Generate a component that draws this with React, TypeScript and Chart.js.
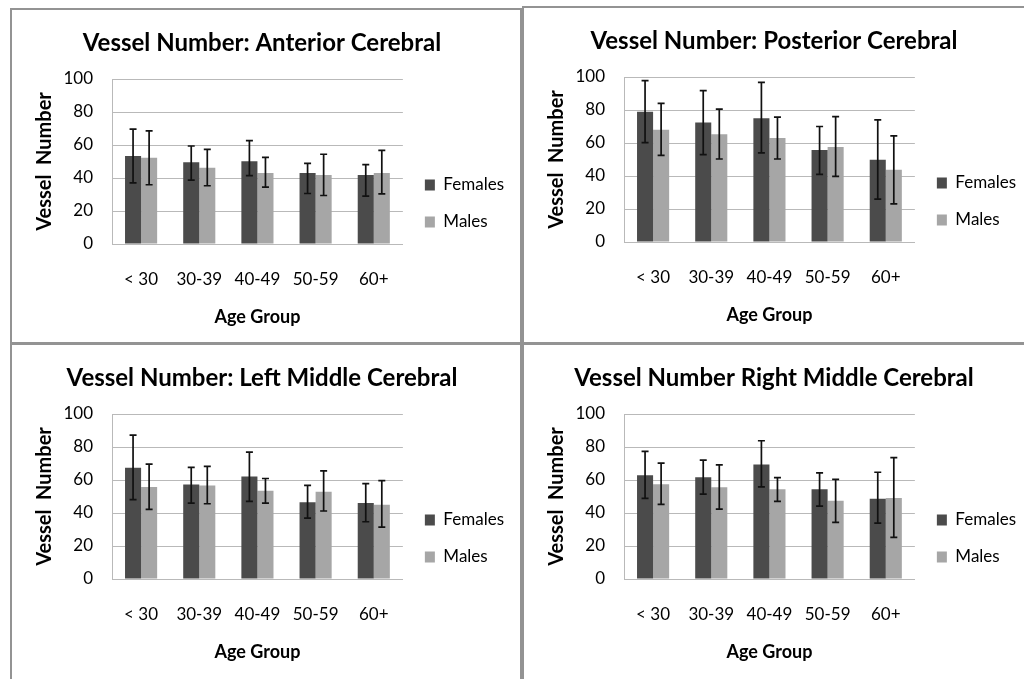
import React, { useEffect, useRef } from 'react';
import { Chart, registerables } from 'chart.js';

Chart.register(...registerables);

// ---------- data ----------
const categories = ['< 30', '30-39', '40-49', '50-59', '60+'];
const yTicks = [0, 20, 40, 60, 80, 100];

// Anterior Cerebral
const acFemales = [53.3, 49.5, 50.1, 43.0, 41.8];
const acFemalesHi = [69.6, 59.4, 62.7, 48.9, 48.1];
const acFemalesLo = [37.1, 38.7, 41.4, 30.6, 29.0];
const acMales = [52.3, 46.2, 43.0, 41.8, 43.0];
const acMalesHi = [68.6, 57.4, 52.5, 54.4, 56.8];
const acMalesLo = [35.9, 35.3, 34.5, 29.4, 30.4];

// Posterior Cerebral
const pcFemales = [78.9, 72.4, 75.0, 55.8, 49.9];
const pcFemalesHi = [97.8, 91.7, 96.8, 70.0, 74.0];
const pcFemalesLo = [60.2, 52.9, 54.0, 41.0, 26.0];
const pcMales = [68.0, 65.3, 63.1, 57.6, 43.8];
const pcMalesHi = [84.0, 80.5, 75.7, 76.0, 64.3];
const pcMalesLo = [52.5, 50.3, 50.3, 39.8, 23.1];

// Left Middle Cerebral
const lmFemales = [67.5, 57.2, 62.1, 46.5, 46.0];
const lmFemalesHi = [87.2, 67.7, 76.9, 56.8, 57.8];
const lmFemalesLo = [48.1, 46.0, 47.1, 36.9, 34.7];
const lmMales = [55.8, 56.6, 53.5, 52.9, 45.0];
const lmMalesHi = [69.6, 68.2, 60.9, 65.5, 59.6];
const lmMalesLo = [42.2, 45.6, 46.0, 41.2, 31.4];

// Right Middle Cerebral
const rmFemales = [62.9, 61.7, 69.4, 54.4, 48.7];
const rmFemalesHi = [77.3, 72.0, 83.8, 64.3, 64.7];
const rmFemalesLo = [48.9, 51.5, 55.8, 44.2, 33.9];
const rmMales = [57.4, 55.6, 54.4, 47.5, 49.1];
const rmMalesHi = [70.2, 69.2, 61.5, 60.4, 73.6];
const rmMalesLo = [45.2, 42.4, 47.1, 34.3, 25.2];

const titles = [
  'Vessel Number: Anterior Cerebral',
  'Vessel Number: Posterior Cerebral',
  'Vessel Number: Left Middle Cerebral',
  'Vessel Number Right Middle Cerebral',
];
const seriesNames = ['Females', 'Males'];
const yTitle = 'Vessel  Number';
const xTitle = 'Age Group';

// ---------- styles ----------
const FEMALE_COLOR = '#4b4b4b';
const MALE_COLOR = '#a6a6a6';
const GRID_COLOR = '#b9b9b9';
const FONT = 'Lato, "Open Sans", sans-serif';
const CANVAS_W = 508;
const CANVAS_H = 332;

const errorBarPlugin = {
  id: 'errorBars',
  afterDatasetsDraw(chart: any) {
    const ctx = chart.ctx;
    const yScale = chart.scales.y;
    chart.data.datasets.forEach((ds: any, di: number) => {
      const meta = chart.getDatasetMeta(di);
      meta.data.forEach((bar: any, i: number) => {
        const x = bar.x;
        const yh = yScale.getPixelForValue(ds.errHi[i]);
        const yl = yScale.getPixelForValue(ds.errLo[i]);
        ctx.save();
        ctx.strokeStyle = '#111111';
        ctx.lineWidth = 1.7;
        ctx.beginPath();
        ctx.moveTo(x, yh);
        ctx.lineTo(x, yl);
        ctx.moveTo(x - 3.5, yh);
        ctx.lineTo(x + 3.5, yh);
        ctx.moveTo(x - 3.5, yl);
        ctx.lineTo(x + 3.5, yl);
        ctx.stroke();
        ctx.restore();
      });
    });
  },
};

const legendShiftPlugin = {
  id: 'legendShift',
  afterLayout(chart: any) {
    if (chart.legend) {
      chart.legend.left += 2;
      chart.legend.right += 2;
    }
  },
};

type PanelProps = {
  title: string;
  females: number[];
  femalesHi: number[];
  femalesLo: number[];
  males: number[];
  malesHi: number[];
  malesLo: number[];
  left: number;
  top: number;
  height: number;
};

function Panel(p: PanelProps) {
  const ref = useRef<HTMLCanvasElement | null>(null);
  useEffect(() => {
    if (!ref.current) return;
    const chart = new Chart(ref.current, {
      type: 'bar',
      data: {
        labels: categories,
        datasets: [
          {
            label: seriesNames[0],
            data: p.females,
            backgroundColor: FEMALE_COLOR,
            borderWidth: 0,
            errHi: p.femalesHi,
            errLo: p.femalesLo,
          } as any,
          {
            label: seriesNames[1],
            data: p.males,
            backgroundColor: MALE_COLOR,
            borderWidth: 0,
            errHi: p.malesHi,
            errLo: p.malesLo,
          } as any,
        ],
      },
      options: {
        responsive: false,
        animation: false,
        devicePixelRatio: 1,
        layout: { padding: { left: 0, right: 8, top: 0, bottom: 0 } },
        datasets: {
          bar: { categoryPercentage: 0.552, barPercentage: 1.0 },
        },
        plugins: {
          title: {
            display: true,
            text: p.title,
            color: '#000',
            font: { family: FONT, size: 24, weight: 'bold', lineHeight: 1.2 },
            padding: { top: 18.6, bottom: 21.6 },
          },
          legend: {
            display: true,
            position: 'right',
            align: 'center',
            title: {
              display: true,
              text: ' ',
              padding: 22.5,
              font: { family: FONT, size: 10, lineHeight: 1 },
            },
            labels: {
              color: '#000',
              font: { family: FONT, size: 17 },
              boxWidth: 10,
              boxHeight: 11,
              padding: 20,
            },
          },
          tooltip: { enabled: false },
        },
        scales: {
          x: {
            grid: { display: false, drawTicks: false },
            border: { display: true, color: GRID_COLOR, width: 1 },
            ticks: {
              color: '#000',
              font: { family: FONT, size: 17, lineHeight: 1.2 },
              padding: 25,
              maxRotation: 0,
            },
            title: {
              display: true,
              text: xTitle,
              color: '#000',
              font: { family: FONT, size: 18, weight: 'bold', lineHeight: 1.2 },
              padding: { top: 0, bottom: 14.2 },
            },
            afterFit(scale: any) {
              scale.height = 98;
            },
          },
          y: {
            min: 0,
            max: 100,
            afterBuildTicks(scale: any) {
              scale.ticks = yTicks.map((v) => ({ value: v }));
            },
            grid: { color: GRID_COLOR, lineWidth: 1, drawTicks: false },
            border: { display: true, color: GRID_COLOR, width: 1 },
            ticks: {
              color: '#000',
              font: { family: FONT, size: 17, lineHeight: 1.2 },
              padding: 19,
            },
            title: {
              display: true,
              text: yTitle,
              color: '#000',
              font: { family: FONT, size: 20, weight: 'bold', lineHeight: 1.2 },
              padding: { top: 21, bottom: 0 },
            },
            afterFit(scale: any) {
              scale.width = 100;
            },
          },
        },
      } as any,
      plugins: [errorBarPlugin, legendShiftPlugin],
    });
    return () => chart.destroy();
  }, []);

  return (
    <div
      style={{
        position: 'absolute',
        left: p.left,
        top: p.top,
        width: 512,
        height: p.height,
        border: '2px solid #939393',
        boxSizing: 'border-box',
        background: '#fff',
      }}
    >
      <canvas
        ref={ref}
        width={CANVAS_W}
        height={CANVAS_H}
        style={{ display: 'block', width: CANVAS_W, height: CANVAS_H }}
      />
    </div>
  );
}

export default function App() {
  return (
    <div
      style={{
        position: 'fixed',
        left: 0,
        top: 0,
        width: 1024,
        height: 679,
        overflow: 'hidden',
        background: '#fff',
      }}
    >
      <Panel
        title={titles[0]}
        females={acFemales}
        femalesHi={acFemalesHi}
        femalesLo={acFemalesLo}
        males={acMales}
        malesHi={acMalesHi}
        malesLo={acMalesLo}
        left={10}
        top={8}
        height={336}
      />
      <Panel
        title={titles[1]}
        females={pcFemales}
        femalesHi={pcFemalesHi}
        femalesLo={pcFemalesLo}
        males={pcMales}
        malesHi={pcMalesHi}
        malesLo={pcMalesLo}
        left={522}
        top={6}
        height={338}
      />
      <Panel
        title={titles[2]}
        females={lmFemales}
        femalesHi={lmFemalesHi}
        femalesLo={lmFemalesLo}
        males={lmMales}
        malesHi={lmMalesHi}
        malesLo={lmMalesLo}
        left={10}
        top={343}
        height={340}
      />
      <Panel
        title={titles[3]}
        females={rmFemales}
        femalesHi={rmFemalesHi}
        femalesLo={rmFemalesLo}
        males={rmMales}
        malesHi={rmMalesHi}
        malesLo={rmMalesLo}
        left={522}
        top={343}
        height={340}
      />
    </div>
  );
}
